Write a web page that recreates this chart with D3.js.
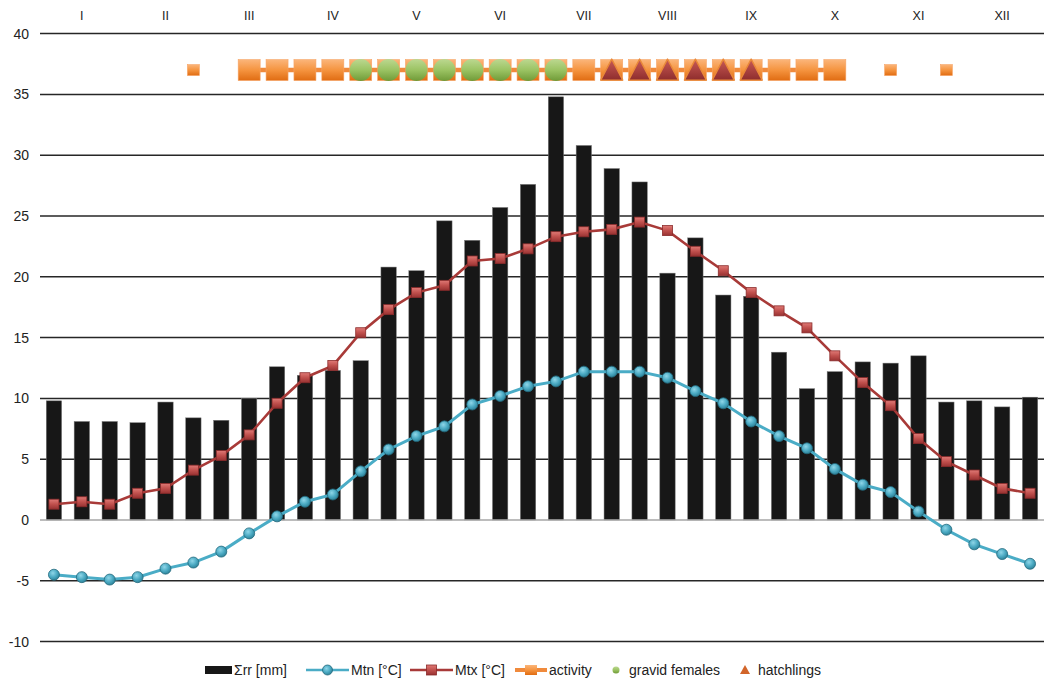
<!DOCTYPE html>
<html>
<head>
<meta charset="utf-8">
<script src="https://cdn.jsdelivr.net/npm/d3@7"></script>
<style>
  html, body { margin: 0; padding: 0; background: #fff; }
  svg { display: block; font-family: "Liberation Sans", Arial, sans-serif; }
</style>
</head>
<body>
<svg id="chart" width="1044" height="682"></svg>
<script>
// Month labels (Roman numerals) and the dekads (10-day periods) they contain
const months = ["I", "II", "III", "IV", "V", "VI", "VII", "VIII", "IX", "X", "XI", "XII"];
const dekads = months.flatMap(m => [m + "-1", m + "-2", m + "-3"]);

// Dekad precipitation sums [mm]
const rainfall = [9.8, 8.1, 8.1, 8.0, 9.7, 8.4, 8.2, 10.0, 12.6, 11.9,
                  12.3, 13.1, 20.8, 20.5, 24.6, 23.0, 25.7, 27.6, 34.8, 30.8,
                  28.9, 27.8, 20.3, 23.2, 18.5, 18.4, 13.8, 10.8, 12.2, 13.0,
                  12.9, 13.5, 9.7, 9.8, 9.3, 10.1];

// Mean minimum temperature [°C]
const tempMin = [-4.5, -4.7, -4.9, -4.7, -4.0, -3.5, -2.6, -1.1, 0.3, 1.5,
                 2.1, 4.0, 5.8, 6.9, 7.7, 9.5, 10.2, 11.0, 11.4, 12.2,
                 12.2, 12.2, 11.7, 10.6, 9.6, 8.1, 6.9, 5.9, 4.2, 2.9,
                 2.3, 0.7, -0.8, -2.0, -2.8, -3.6];

// Mean maximum temperature [°C]
const tempMax = [1.3, 1.5, 1.3, 2.2, 2.6, 4.1, 5.3, 7.0, 9.6, 11.7,
                 12.7, 15.4, 17.3, 18.7, 19.3, 21.3, 21.5, 22.3, 23.3, 23.7,
                 23.9, 24.5, 23.8, 22.1, 20.5, 18.7, 17.2, 15.8, 13.5, 11.3,
                 9.4, 6.7, 4.8, 3.7, 2.6, 2.2];

// Phenology: dekads (0-based) with observations
const activityDekads = d3.range(7, 29);      // continuous activity season
const sporadicDekads = [5, 30, 32];          // isolated activity records
const gravidDekads = d3.range(11, 19);       // gravid females observed
const hatchlingDekads = d3.range(20, 26);    // hatchlings observed
const phenologyLevel = 37;                   // value at which the phenology row is plotted

// Axis ticks
const yTicks = [-10, -5, 0, 5, 10, 15, 20, 25, 30, 35, 40];

const svg = d3.select("#chart");
const plotLeft = 40, plotRight = 1044, plotTop = 33.6, plotBottom = 641.6;

const x = d3.scaleBand().domain(dekads).range([plotLeft, plotRight])
  .paddingInner(0.45).paddingOuter(0.225);
const cx = i => x(dekads[i]) + x.bandwidth() / 2;
const y = d3.scaleLinear().domain([-10, 40]).range([plotBottom, plotTop]);

// Gradients for the shaded markers
const defs = svg.append("defs");
function vGrad(id, stops) {
  const g = defs.append("linearGradient").attr("id", id)
    .attr("x1", 0).attr("y1", 0).attr("x2", 0).attr("y2", 1);
  stops.forEach(([o, c]) => g.append("stop").attr("offset", o).attr("stop-color", c));
}
vGrad("gOrange", [[0, "#fbb57a"], [0.5, "#f5943f"], [1, "#e06c12"]]);
vGrad("gGreen", [[0, "#bcd890"], [0.5, "#9bc363"], [1, "#6f9a37"]]);
vGrad("gTri", [[0, "#c95a55"], [1, "#8e2d2d"]]);
vGrad("gRed", [[0, "#e07a76"], [0.5, "#c0504d"], [1, "#983232"]]);
const rg = defs.append("radialGradient").attr("id", "gBlue")
  .attr("cx", 0.4).attr("cy", 0.35).attr("r", 0.7);
rg.append("stop").attr("offset", 0).attr("stop-color", "#8fd6e8");
rg.append("stop").attr("offset", 0.55).attr("stop-color", "#4aa9c2");
rg.append("stop").attr("offset", 1).attr("stop-color", "#2b7d93");

// Horizontal gridlines (zero is drawn later as the category axis)
svg.append("g").selectAll("line").data(yTicks.filter(t => t !== 0)).join("line")
  .attr("x1", plotLeft).attr("x2", plotRight)
  .attr("y1", d => y(d)).attr("y2", d => y(d))
  .attr("stroke", "#262626").attr("stroke-width", 1.5);

// Value axis labels (plain hyphen for negatives)
const yAxis = d3.axisLeft(y).tickValues(yTicks).tickFormat(d => String(d))
  .tickSize(0).tickPadding(0);
const gy = svg.append("g").attr("transform", `translate(${plotLeft - 11},0)`).call(yAxis);
gy.select(".domain").remove();
gy.selectAll("text").attr("font-size", 14).attr("fill", "#222")
  .attr("font-family", "Liberation Sans, Arial, sans-serif");

// Month labels along the top
svg.append("g").selectAll("text").data(months).join("text")
  .attr("x", (d, i) => cx(i * 3 + 1))
  .attr("y", 19.5)
  .attr("text-anchor", "middle")
  .attr("font-size", 12.5).attr("fill", "#222")
  .text(d => d);

// Precipitation bars
svg.append("g").selectAll("rect").data(rainfall).join("rect")
  .attr("x", (d, i) => x(dekads[i]))
  .attr("width", x.bandwidth())
  .attr("y", d => y(d))
  .attr("height", d => y(0) - y(d))
  .attr("fill", "#171717").attr("stroke", "#777").attr("stroke-width", 0.5);

// Category axis line at zero
svg.append("line").attr("x1", plotLeft).attr("x2", plotRight)
  .attr("y1", y(0)).attr("y2", y(0))
  .attr("stroke", "#a6a6a6").attr("stroke-width", 1.5);

// Temperature lines
const line = d3.line().x((d, i) => cx(i)).y(d => y(d));

svg.append("path").datum(tempMax).attr("d", line)
  .attr("fill", "none").attr("stroke", "#a83a38").attr("stroke-width", 2.6);
svg.append("g").selectAll("rect").data(tempMax).join("rect")
  .attr("x", (d, i) => cx(i) - 5).attr("y", d => y(d) - 5)
  .attr("width", 10).attr("height", 10)
  .attr("fill", "url(#gRed)").attr("stroke", "#8a2b2b").attr("stroke-width", 0.8);

svg.append("path").datum(tempMin).attr("d", line)
  .attr("fill", "none").attr("stroke", "#4aacc6").attr("stroke-width", 3);
svg.append("g").selectAll("circle").data(tempMin).join("circle")
  .attr("cx", (d, i) => cx(i)).attr("cy", d => y(d)).attr("r", 5.5)
  .attr("fill", "url(#gBlue)").attr("stroke", "#22697d").attr("stroke-width", 0.8);

// Phenology row
const py = y(phenologyLevel);
svg.append("path")
  .datum(activityDekads)
  .attr("d", d3.line().x(i => cx(i)).y(() => py))
  .attr("fill", "none").attr("stroke", "#f08a3c").attr("stroke-width", 4.5);
svg.append("g").selectAll("rect").data(activityDekads).join("rect")
  .attr("x", i => cx(i) - 11).attr("y", py - 10.5)
  .attr("width", 22).attr("height", 21)
  .attr("fill", "url(#gOrange)").attr("stroke", "#f7a466").attr("stroke-width", 0.6);
svg.append("g").selectAll("rect").data(sporadicDekads).join("rect")
  .attr("x", i => cx(i) - 6).attr("y", py - 5.5)
  .attr("width", 12).attr("height", 11)
  .attr("fill", "url(#gOrange)").attr("stroke", "#f7a466").attr("stroke-width", 0.6);
svg.append("g").selectAll("circle").data(gravidDekads).join("circle")
  .attr("cx", i => cx(i)).attr("cy", py).attr("r", 11)
  .attr("fill", "url(#gGreen)");
svg.append("g").selectAll("path").data(hatchlingDekads).join("path")
  .attr("d", i => `M${cx(i)},${py - 11} L${cx(i) + 11},${py + 10} L${cx(i) - 11},${py + 10} Z`)
  .attr("fill", "url(#gTri)").attr("stroke", "#e9893a").attr("stroke-width", 1.4)
  .attr("stroke-linejoin", "round");

// Legend
const lg = svg.append("g").attr("font-size", 14).attr("fill", "#222");
const ly = 670;
const legendItems = [
  { key: "Σrr [mm]", x: 205, w: 27 },
  { key: "Mtn [°C]", x: 306, w: 43 },
  { key: "Mtx [°C]", x: 410, w: 43 },
  { key: "activity", x: 515, w: 32 },
  { key: "gravid females", x: 605, w: 22 },
  { key: "hatchlings", x: 734, w: 22 }
];
legendItems.forEach((it, k) => {
  const g = lg.append("g");
  const mid = it.x + it.w / 2;
  if (k === 0) {
    g.append("rect").attr("x", it.x).attr("y", ly - 4).attr("width", it.w).attr("height", 8).attr("fill", "#171717");
  } else if (k === 1) {
    g.append("line").attr("x1", it.x).attr("x2", it.x + it.w).attr("y1", ly).attr("y2", ly)
      .attr("stroke", "#4aacc6").attr("stroke-width", 2.5);
    g.append("circle").attr("cx", mid).attr("cy", ly).attr("r", 5)
      .attr("fill", "url(#gBlue)").attr("stroke", "#22697d").attr("stroke-width", 0.8);
  } else if (k === 2) {
    g.append("line").attr("x1", it.x).attr("x2", it.x + it.w).attr("y1", ly).attr("y2", ly)
      .attr("stroke", "#a83a38").attr("stroke-width", 2.5);
    g.append("rect").attr("x", mid - 5).attr("y", ly - 5).attr("width", 10).attr("height", 10)
      .attr("fill", "url(#gRed)").attr("stroke", "#8a2b2b").attr("stroke-width", 0.8);
  } else if (k === 3) {
    g.append("line").attr("x1", it.x).attr("x2", it.x + it.w).attr("y1", ly).attr("y2", ly)
      .attr("stroke", "#f08a3c").attr("stroke-width", 4);
    g.append("rect").attr("x", mid - 6).attr("y", ly - 5).attr("width", 12).attr("height", 10)
      .attr("fill", "url(#gOrange)");
  } else if (k === 4) {
    g.append("circle").attr("cx", mid).attr("cy", ly).attr("r", 3.5).attr("fill", "url(#gGreen)");
  } else {
    g.append("path").attr("d", `M${mid},${ly - 5} L${mid + 5},${ly + 4} L${mid - 5},${ly + 4} Z`)
      .attr("fill", "#d2652a");
  }
  g.append("text").attr("x", it.x + it.w + 2).attr("y", ly + 5).text(it.key);
});
</script>
</body>
</html>
